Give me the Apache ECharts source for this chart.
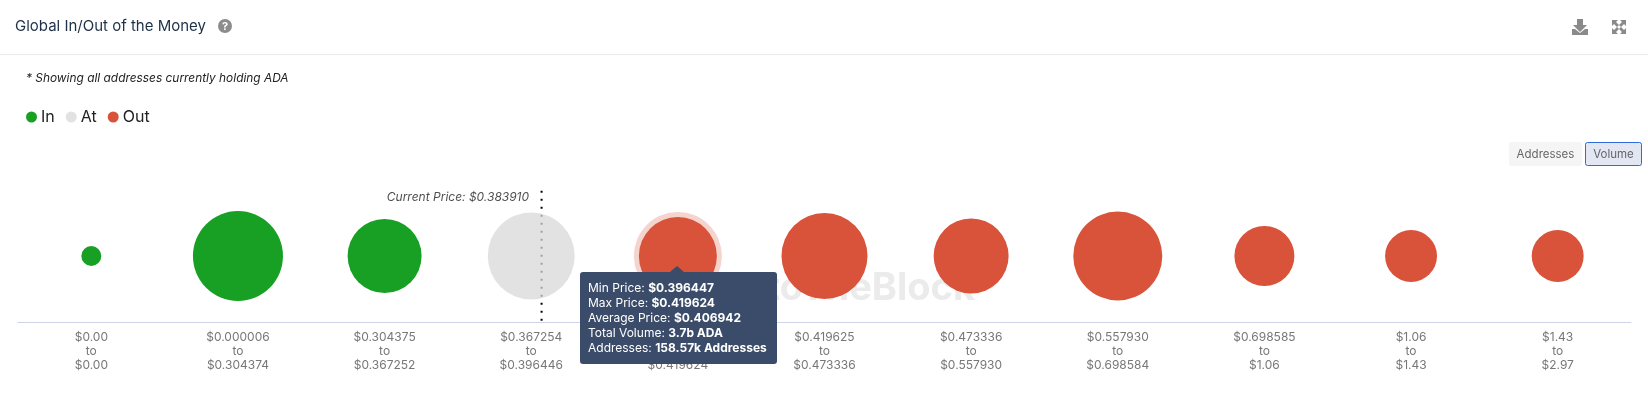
<!DOCTYPE html>
<html><head><meta charset="utf-8">
<script src="https://cdn.jsdelivr.net/npm/echarts@6/dist/echarts.min.js"></script>
<style>html,body{margin:0;padding:0;background:#fff}#c{width:1648px;height:396px}</style>
</head><body><div id="c"></div>
<script>
const minPrices = ['$0.00','$0.000006','$0.304375','$0.367254','$0.396447','$0.419625','$0.473336','$0.557930','$0.698585','$1.06','$1.43'];
const maxPrices = ['$0.00','$0.304374','$0.367252','$0.396446','$0.419624','$0.473336','$0.557930','$0.698584','$1.06','$1.43','$2.97'];
const zones = ['In','In','In','At','Out','Out','Out','Out','Out','Out','Out'];
const volumes = [0.243,4.93,3.33,4.6,3.7,4.5,3.42,4.82,2.19,1.64,1.64];
const currentPrice = 0.38391;
const atBucketMin = 0.367254, atBucketMax = 0.396446;
const hoverIndex = 4;
const hoverAverage = '$0.406942';
const hoverVolume = '3.7b ADA';
const hoverAddresses = '158.57k Addresses';
const colors = {In:'#18a025', At:'#d8d8d8', Out:'#d9523a'};
const FONT = 'Inter, sans-serif';
const sizeOf = v => 40.55 * Math.sqrt(v);
const zoneSeries = name => ({
  name, type:'scatter', xAxisIndex:0, yAxisIndex:0, z:4,
  itemStyle:{color:colors[name], opacity:name==='At'?0.75:1},
  symbolSize:d=>sizeOf(d[2]),
  emphasis:{disabled:true},
  data:volumes.map((v,i)=>zones[i]===name?[i,0.5,v]:null).filter(Boolean)
});
const atIndex = zones.indexOf('At');
const priceX = atIndex - 0.5 + (currentPrice-atBucketMin)/(atBucketMax-atBucketMin);
const chart = echarts.init(document.getElementById('c'));
const T = (x,y,text,o)=>({type:'text',x,y,silent:true,style:Object.assign({text,fontFamily:FONT,fontSize:12,fill:'#333',textVerticalAlign:'middle'},o||{})});
chart.setOption({
  animation:false,
  textStyle:{fontFamily:FONT},
  grid:{left:18,right:17,top:190,bottom:74},
  title:{text:'Global In/Out of the Money',left:15,top:19,padding:0,textStyle:{fontFamily:'Inter',fontWeight:400,fontSize:15,color:'#1e3148'}},
  legend:{left:21,top:104,itemWidth:11,itemHeight:11,itemGap:11,icon:'circle',data:['In','At','Out'],
    textStyle:{fontFamily:FONT,fontSize:16,color:'#222',padding:[0,0,0,-1]}},
  xAxis:[
    {type:'category',data:minPrices,axisTick:{show:false},axisLine:{lineStyle:{color:'#ccd6eb',width:1}},
     axisLabel:{interval:0,margin:8,color:'#777',fontSize:12,lineHeight:14,fontFamily:FONT,
       formatter:(v,i)=>minPrices[i]+'\nto\n'+maxPrices[i]}},
    {type:'value',min:-0.5,max:10.5,show:false}
  ],
  yAxis:[{type:'value',min:0,max:1,show:false}],
  tooltip:{trigger:'item',alwaysShowContent:true,showDelay:0,transitionDuration:0,
    backgroundColor:'#3a4c69',borderWidth:0,padding:[8,10,9,8],
    extraCssText:'border-radius:3px;box-shadow:none;overflow:visible;',
    textStyle:{color:'#fff',fontSize:12,fontFamily:FONT},
    position:()=>[580,272],
    formatter:p=>{
      if(p.seriesName!=='Out')return '';
      const i=p.value[0];
      const row=(k,v)=>`<div style="line-height:15px;white-space:nowrap">${k}: <b>${v}</b></div>`;
      return `<div style="position:absolute;left:90px;top:-6px;width:0;height:0;border-left:7px solid transparent;border-right:7px solid transparent;border-bottom:6px solid #3a4c69"></div>`+
        row('Min Price',minPrices[i])+row('Max Price',maxPrices[i])+row('Average Price',hoverAverage)+row('Total Volume',hoverVolume)+row('Addresses',hoverAddresses);
    }},
  graphic:[
    {type:'line',silent:true,shape:{x1:0,y1:54.5,x2:1648,y2:54.5},style:{stroke:'#ececec',lineWidth:1}},
    {type:'circle',silent:true,shape:{cx:225,cy:26,r:7},style:{fill:'#8c8c8c'}},
    T(225,26.5,'?',{fill:'#fff',fontSize:11,fontWeight:700,textAlign:'center'}),
    T(26,78,'* Showing all addresses currently holding ADA',{fontStyle:'italic',fill:'#222',fontSize:11.9}),
    {type:'rect',silent:true,shape:{x:1509,y:142,width:73,height:24,r:2},style:{fill:'#f5f5f5'}},
    T(1545.5,154.5,'Addresses',{fill:'#666',textAlign:'center',fontSize:11.5}),
    {type:'rect',silent:true,shape:{x:1585.5,y:142.5,width:56,height:23,r:2},style:{fill:'#e2e7f3',stroke:'#2f6bdc',lineWidth:1}},
    T(1613.5,154.5,'Volume',{fill:'#666',textAlign:'center',fontSize:11.5}),
    {type:'polygon',silent:true,shape:{points:[[1577,19],[1583,19],[1583,25],[1587,25],[1580,32],[1573,25],[1577,25]]},style:{fill:'#8a8a8a'}},
    {type:'polygon',silent:true,shape:{points:[[1572,29],[1575,29],[1580,33],[1585,29],[1588,29],[1588,35],[1572,35]]},style:{fill:'#8a8a8a'}},
    {type:'group',silent:true,children:[
      {type:'polygon',shape:{points:[[1612,20],[1618,20],[1616,22],[1619,25],[1617,27],[1614,24],[1612,26]]},style:{fill:'#8a8a8a'}},
      {type:'polygon',shape:{points:[[1626,20],[1620,20],[1622,22],[1619,25],[1621,27],[1624,24],[1626,26]]},style:{fill:'#8a8a8a'}},
      {type:'polygon',shape:{points:[[1612,34],[1618,34],[1616,32],[1619,29],[1617,27],[1614,30],[1612,28]]},style:{fill:'#8a8a8a'}},
      {type:'polygon',shape:{points:[[1626,34],[1620,34],[1622,32],[1619,29],[1621,27],[1624,30],[1626,28]]},style:{fill:'#8a8a8a'}}
    ]},
    T(975,289,'IntoTheBlock',{textAlign:'right',fontSize:38,fontWeight:700,fill:'#ebebeb'})
  ],
  series:[
    {name:'halo',type:'scatter',xAxisIndex:0,yAxisIndex:0,z:3,silent:true,tooltip:{show:false},
     itemStyle:{color:colors.Out,opacity:0.25},symbolSize:d=>sizeOf(d[2])+10,emphasis:{disabled:true},
     data:[[hoverIndex,0.5,volumes[hoverIndex]]]},
    {name:'Current Price',type:'line',xAxisIndex:1,yAxisIndex:0,z:2,silent:true,symbol:'none',
     lineStyle:{color:'#000',width:2,type:[2,6]},tooltip:{show:false},
     data:[[priceX,0.01],[priceX,1]]},
    zoneSeries('In'),zoneSeries('At'),zoneSeries('Out'),
    {name:'Current Price Label',type:'scatter',xAxisIndex:1,yAxisIndex:0,z:5,silent:true,symbolSize:1,
     itemStyle:{color:'rgba(0,0,0,0)'},tooltip:{show:false},emphasis:{disabled:true},
     label:{show:true,position:'left',distance:12,offset:[0,7],fontStyle:'italic',fontSize:12,color:'#222',fontFamily:FONT,
       formatter:'Current Price: $'+currentPrice.toFixed(6)},
     data:[[priceX,1]]}
  ]
});
chart.dispatchAction({type:'showTip',seriesIndex:4,dataIndex:zones.slice(0,hoverIndex).filter(z=>z==='Out').length});
</script></body></html>
